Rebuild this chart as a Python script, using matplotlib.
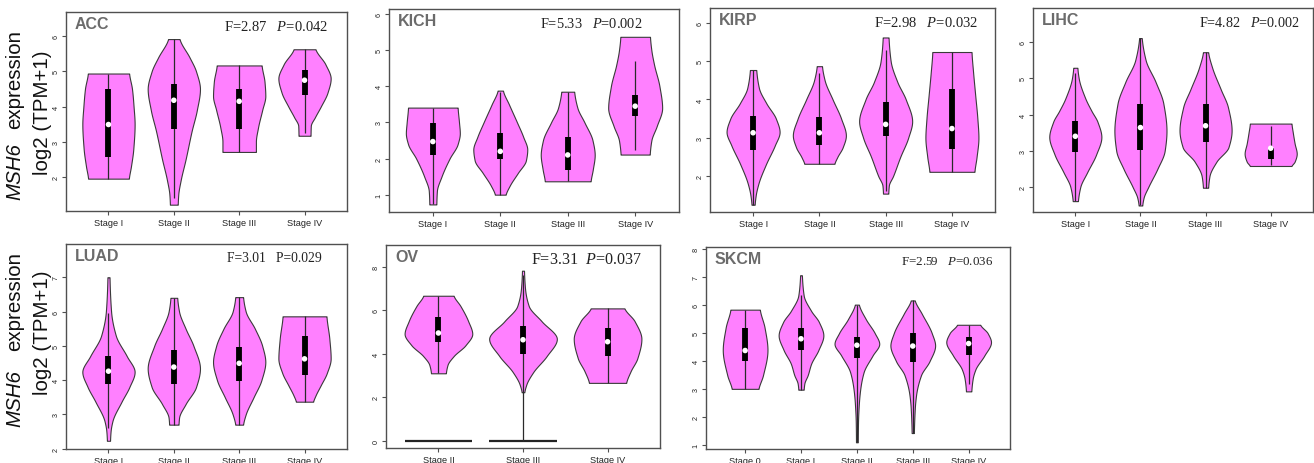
import numpy as np
import matplotlib
matplotlib.use("Agg")
import matplotlib.pyplot as plt

plt.rcParams["font.family"] = ["Liberation Sans", "DejaVu Sans"]
plt.rcParams["mathtext.fontset"] = "custom"
plt.rcParams["mathtext.rm"] = "Liberation Serif"
plt.rcParams["mathtext.it"] = "Liberation Serif:italic"

W, H = 1314, 464

# ---------------------------------------------------------------- data
STAGES_4 = ["Stage I", "Stage II", "Stage III", "Stage IV"]
STAGES_OV = ["Stage II", "Stage III", "Stage IV"]
STAGES_SKCM = ["Stage 0", "Stage I", "Stage II", "Stage III", "Stage IV"]

# five-number summaries per group: lower whisker, Q1, median, Q3, upper whisker
ACC_BOX = [(1.95, 2.57, 3.49, 4.49, 4.94), (1.40, 3.35, 4.18, 4.63, 5.92),
           (2.71, 3.35, 4.15, 4.50, 5.17), (3.25, 4.32, 4.75, 5.05, 5.63)]
KICH_BOX = [(0.75, 2.09, 2.47, 2.99, 3.41), (1.00, 1.99, 2.20, 2.71, 3.85),
            (1.37, 1.67, 2.10, 2.59, 3.85), (2.25, 3.17, 3.45, 3.77, 4.69)]
KIRP_BOX = [(1.25, 2.69, 3.13, 3.56, 4.77), (2.32, 2.80, 3.13, 3.53, 4.68),
            (1.62, 3.04, 3.35, 3.93, 5.30), (2.11, 2.71, 3.24, 4.28, 5.24)]
LIHC_BOX = [(1.61, 2.97, 3.40, 3.81, 5.15), (1.49, 3.01, 3.64, 4.28, 6.11),
            (1.98, 3.24, 3.69, 4.28, 5.72), (2.60, 2.76, 3.07, 3.08, 3.67)]
LUAD_BOX = [(2.60, 3.89, 4.26, 4.71, 5.95), (2.70, 3.88, 4.38, 4.87, 6.40),
            (2.70, 3.97, 4.49, 4.97, 6.42), (3.37, 4.15, 4.62, 5.29, 5.86)]
OV_BOX = [(3.11, 4.53, 4.96, 5.68, 6.67), (0.00, 4.00, 4.65, 5.27, 7.60),
          (2.67, 3.92, 4.56, 5.18, 6.09)]
SKCM_BOX = [(3.01, 4.02, 4.38, 5.18, 5.84), (2.98, 4.40, 4.80, 5.19, 6.35),
            (1.10, 4.12, 4.57, 4.86, 6.02), (1.43, 3.96, 4.54, 5.00, 6.17),
            (3.20, 4.23, 4.63, 4.87, 5.30)]

# density outlines: (expression level, relative half-width)
ACC_SHAPE = [
    [(1.95, 0.78), (2.3, 0.86), (2.8, 0.95), (3.5, 1.0), (4.0, 0.96), (4.5, 0.9), (4.94, 0.79)],
    [(1.21, 0.15), (1.5, 0.17), (1.9, 0.26), (2.5, 0.45), (3.3, 0.68), (3.9, 0.88), (4.5, 1.0),
     (5.0, 0.85), (5.4, 0.6), (5.92, 0.22)],
    [(2.71, 0.64), (3.0, 0.64), (3.4, 0.72), (3.9, 0.88), (4.3, 1.0), (4.7, 0.97), (5.17, 0.86)],
    [(3.17, 0.23), (3.45, 0.24), (3.7, 0.4), (4.0, 0.62), (4.4, 0.88), (4.8, 1.0), (5.2, 0.8),
     (5.63, 0.42)],
]
KICH_SHAPE = [
    [(0.73, 0.13), (1.1, 0.15), (1.5, 0.32), (2.0, 0.62), (2.4, 0.92), (2.7, 1.0), (3.0, 0.97),
     (3.41, 0.92)],
    [(1.0, 0.2), (1.25, 0.35), (1.6, 0.65), (1.95, 0.95), (2.25, 1.0), (2.6, 0.85), (3.0, 0.62),
     (3.5, 0.32), (3.88, 0.1)],
    [(1.37, 0.85), (1.7, 0.93), (2.1, 1.0), (2.5, 0.92), (3.0, 0.62), (3.4, 0.36), (3.85, 0.24)],
    [(2.11, 0.54), (2.5, 0.6), (2.9, 0.8), (3.4, 1.0), (4.0, 0.9), (4.6, 0.7), (5.0, 0.6),
     (5.37, 0.55)],
]
KIRP_SHAPE = [
    [(1.25, 0.06), (1.5, 0.1), (1.8, 0.2), (2.3, 0.48), (2.8, 0.82), (3.15, 1.0), (3.5, 0.86),
     (3.9, 0.5), (4.3, 0.22), (4.77, 0.12)],
    [(2.32, 0.57), (2.5, 0.68), (2.75, 0.88), (3.06, 1.0), (3.5, 0.82), (4.0, 0.5), (4.5, 0.2),
     (4.87, 0.1)],
    [(1.54, 0.1), (1.75, 0.12), (2.0, 0.28), (2.5, 0.55), (3.0, 0.85), (3.43, 1.0), (4.0, 0.76),
     (4.46, 0.44), (5.0, 0.19), (5.62, 0.11)],
    [(2.11, 0.85), (2.5, 0.93), (3.0, 1.0), (3.5, 0.96), (4.1, 0.88), (4.7, 0.8), (5.24, 0.74)],
]
LIHC_SHAPE = [
    [(1.61, 0.1), (2.0, 0.19), (2.4, 0.45), (2.9, 0.8), (3.38, 1.0), (3.8, 0.85), (4.1, 0.62),
     (4.45, 0.38), (5.0, 0.13), (5.29, 0.08)],
    [(1.49, 0.07), (1.7, 0.12), (2.0, 0.3), (2.5, 0.65), (3.0, 0.93), (3.55, 1.0), (4.3, 0.88),
     (4.9, 0.58), (5.5, 0.2), (6.11, 0.05)],
    [(1.98, 0.1), (2.3, 0.15), (2.7, 0.42), (3.1, 0.88), (3.56, 1.0), (4.2, 0.86), (4.7, 0.58),
     (5.3, 0.25), (5.72, 0.1)],
    [(2.58, 0.8), (2.7, 0.92), (2.92, 1.0), (3.2, 0.92), (3.5, 0.85), (3.75, 0.8)],
]
LUAD_SHAPE = [
    [(2.23, 0.06), (2.5, 0.08), (2.8, 0.15), (3.37, 0.5), (3.8, 0.8), (4.24, 1.0), (4.7, 0.7),
     (5.3, 0.28), (6.0, 0.1), (7.0, 0.04)],
    [(2.7, 0.18), (2.9, 0.2), (3.3, 0.45), (3.8, 0.85), (4.34, 1.0), (5.0, 0.75), (5.5, 0.45),
     (6.0, 0.2), (6.4, 0.13)],
    [(2.7, 0.15), (3.0, 0.25), (3.5, 0.55), (4.0, 0.85), (4.53, 1.0), (5.0, 0.88), (5.5, 0.6),
     (6.0, 0.25), (6.42, 0.15)],
    [(3.37, 0.33), (3.55, 0.42), (3.85, 0.62), (4.2, 0.85), (4.63, 1.0), (5.2, 0.95), (5.86, 0.84)],
]
OV_SHAPE = [
    [(3.11, 0.22), (3.5, 0.27), (3.9, 0.45), (4.4, 0.8), (4.92, 1.0), (5.5, 0.88), (6.2, 0.65),
     (6.67, 0.45)],
    [(2.24, 0.04), (2.6, 0.1), (3.16, 0.3), (3.9, 0.7), (4.69, 1.0), (5.5, 0.55), (6.2, 0.17),
     (7.0, 0.06), (7.82, 0.03)],
    [(2.67, 0.55), (3.2, 0.68), (3.8, 0.88), (4.69, 1.0), (5.5, 0.8), (6.09, 0.5)],
]
SKCM_SHAPE = [
    [(3.01, 0.6), (3.5, 0.8), (4.4, 1.0), (5.2, 0.87), (5.84, 0.66)],
    [(2.98, 0.12), (3.2, 0.15), (3.5, 0.3), (3.9, 0.45), (4.4, 0.78), (4.92, 1.0), (5.4, 0.8),
     (5.8, 0.45), (6.35, 0.12), (7.07, 0.04)],
    [(1.1, 0.04), (1.8, 0.05), (2.5, 0.09), (3.0, 0.15), (3.6, 0.3), (4.2, 0.7), (4.62, 1.0),
     (5.0, 0.8), (5.5, 0.4), (6.02, 0.09)],
    [(1.43, 0.05), (2.3, 0.09), (2.8, 0.15), (3.5, 0.37), (4.0, 0.75), (4.56, 1.0), (5.0, 0.85),
     (5.7, 0.4), (6.17, 0.09)],
    [(2.92, 0.12), (3.37, 0.18), (3.7, 0.3), (4.2, 0.7), (4.68, 1.0), (5.0, 0.85), (5.3, 0.52)],
]

# groups in OV that also carry samples at zero expression
OV_ZERO_GROUPS = ["Stage II", "Stage III"]

F_VALUES = {"ACC": "2.87", "KICH": "5.33", "KIRP": "2.98", "LIHC": "4.82",
            "LUAD": "3.01", "OV": "3.31", "SKCM": "2.59"}
P_VALUES = {"ACC": "0.042", "KICH": "0.002", "KIRP": "0.032", "LIHC": "0.002",
            "LUAD": "0.029", "OV": "0.037", "SKCM": "0.036"}

# ---------------------------------------------------------------- layout
# name, stages, shapes, boxes, pixel box (left, top, right, bottom), ylim, yticks,
# stat font size, stat right margin (px), italic P
PANELS = [
    ("ACC", STAGES_4, ACC_SHAPE, ACC_BOX, (66, 13, 347, 212), (1.03, 6.69), [2, 3, 4, 5, 6], 10.5, 19, True),
    ("KICH", STAGES_4, KICH_SHAPE, KICH_BOX, (389, 10, 679, 213), (0.52, 6.14), [1, 2, 3, 4, 5, 6], 10.4, 37, True),
    ("KIRP", STAGES_4, KIRP_SHAPE, KIRP_BOX, (710, 9, 995, 213), (1.06, 6.39), [2, 3, 4, 5, 6], 10.5, 17, True),
    ("LIHC", STAGES_4, LIHC_SHAPE, LIHC_BOX, (1033, 9, 1313, 213), (1.31, 6.94), [2, 3, 4, 5, 6], 10.2, 13, True),
    ("LUAD", STAGES_4, LUAD_SHAPE, LUAD_BOX, (66, 245, 347, 450), (1.99, 7.97), [2, 3, 4, 5, 6, 7], 9.8, 25, False),
    ("OV", STAGES_OV, OV_SHAPE, OV_BOX, (386, 246, 660, 449), (-0.32, 9.0), [0, 2, 4, 6, 8], 11.6, 18, True),
    ("SKCM", STAGES_SKCM, SKCM_SHAPE, SKCM_BOX, (706, 248, 1010, 450), (0.86, 8.08), [1, 2, 3, 4, 5, 6, 7, 8], 9.4, 17, True),
]

VIOLIN_FACE = "#ff80ff"
VIOLIN_EDGE = "#3a3a3a"
FRAME = "#505050"


def pchip(x, y, xn):
    """Shape-preserving cubic through the outline points."""
    x = np.asarray(x, float)
    y = np.asarray(y, float)
    h = np.diff(x)
    d = np.diff(y) / h
    m = np.zeros_like(y)
    for k in range(1, len(x) - 1):
        if d[k - 1] * d[k] > 0:
            w1 = 2 * h[k] + h[k - 1]
            w2 = h[k] + 2 * h[k - 1]
            m[k] = (w1 + w2) / (w1 / d[k - 1] + w2 / d[k])
    m[0] = d[0] * 0.5
    m[-1] = d[-1] * 0.5
    idx = np.clip(np.searchsorted(x, xn) - 1, 0, len(h) - 1)
    t = (xn - x[idx]) / h[idx]
    h00 = 2 * t**3 - 3 * t**2 + 1
    h10 = t**3 - 2 * t**2 + t
    h01 = -2 * t**3 + 3 * t**2
    h11 = t**3 - t**2
    return (h00 * y[idx] + h10 * h[idx] * m[idx] + h01 * y[idx + 1]
            + h11 * h[idx] * m[idx + 1])


def violin_stats(shape, box):
    lv = [p[0] for p in shape]
    wd = [p[1] for p in shape]
    grid = np.linspace(lv[0], lv[-1], 300)
    vals = np.clip(pchip(lv, wd, grid), 0.01, None)
    return {"coords": grid, "vals": vals, "mean": box[2], "median": box[2],
            "min": box[0], "max": box[4]}


fig = plt.figure(figsize=(W / 100, H / 100), dpi=100)

for name, stages, shapes, boxes, (l, t, r, b), ylim, yticks, sfs, smar, pital in PANELS:
    ax = fig.add_axes([l / W, 1 - b / H, (r - l) / W, (b - t) / H])
    n = len(stages)
    pos = np.arange(1, n + 1)
    stats = [violin_stats(s, bx) for s, bx in zip(shapes, boxes)]
    parts = ax.violin(stats, positions=pos, widths=0.8, showmeans=False,
                      showextrema=False, showmedians=False)
    for body in parts["bodies"]:
        body.set_facecolor(VIOLIN_FACE)
        body.set_edgecolor(VIOLIN_EDGE)
        body.set_alpha(1)
        body.set_linewidth(0.8)
        body.set_zorder(2)

    if name == "OV":
        for st in OV_ZERO_GROUPS:
            p = stages.index(st) + 1
            ax.hlines(0, p - 0.4, p + 0.4, color="#222222", lw=1.6, zorder=2)

    lo = [bx[0] for bx in boxes]
    q1 = [bx[1] for bx in boxes]
    med = [bx[2] for bx in boxes]
    q3 = [bx[3] for bx in boxes]
    hi = [bx[4] for bx in boxes]
    ax.vlines(pos, lo, hi, color="#2a2a2a", lw=0.9, zorder=3)
    ax.vlines(pos, q1, q3, color="black", lw=4.2, zorder=4)
    ax.scatter(pos, med, s=16, color="white", edgecolor="none", zorder=5)

    if n == 3:
        ax.set_xlim(0.38, 3.62)
    elif n == 5:
        ax.set_xlim(0.30, 5.74)
    else:
        ax.set_xlim(0.35, 4.65)
    ax.set_ylim(*ylim)
    ax.set_xticks(pos)
    ax.set_xticklabels(stages, fontsize=6.6, color="#222222")
    ax.set_yticks(yticks)
    ax.set_yticklabels([str(v) for v in yticks], fontsize=5.2, rotation=90,
                       va="center", color="#222222")
    ax.tick_params(axis="both", direction="out", length=3, width=0.8,
                   color=FRAME, pad=2)
    ax.tick_params(axis="y", pad=1.5)
    for sp in ax.spines.values():
        sp.set_color(FRAME)
        sp.set_linewidth(1.0)

    ax.text(9 / (r - l), 1 - 4 / (b - t), name, transform=ax.transAxes,
            ha="left", va="top", fontsize=11.5, fontweight="bold", color="#6b6b6b")
    ptxt = "$P$" if pital else "P"
    gap = "  " if name == "OV" else "   "
    ax.text(1 - smar / (r - l), 1 - 14 / (b - t),
            f"F={F_VALUES[name]}{gap}{ptxt}={P_VALUES[name]}",
            transform=ax.transAxes, ha="right", va="center", fontsize=sfs,
            family="Liberation Serif", color="#222222")

# y-axis titles, one per row
for (x1, y_msh, y_expr, x2, y_log) in [(15, 200, 30, 43, 113), (15, 427, 252, 42, 333)]:
    fig.text(x1 / W, 1 - y_msh / H, "MSH6", rotation=90, ha="center", va="bottom",
             fontsize=14.8, style="italic", color="#111111")
    fig.text(x1 / W, 1 - y_expr / H, "expression", rotation=90, ha="center", va="top",
             fontsize=14.8, color="#111111")
    fig.text(x2 / W, 1 - y_log / H, "log2 (TPM+1)", rotation=90, ha="center",
             va="center", fontsize=14.8, color="#111111")

fig.savefig("out.png", dpi=100)
